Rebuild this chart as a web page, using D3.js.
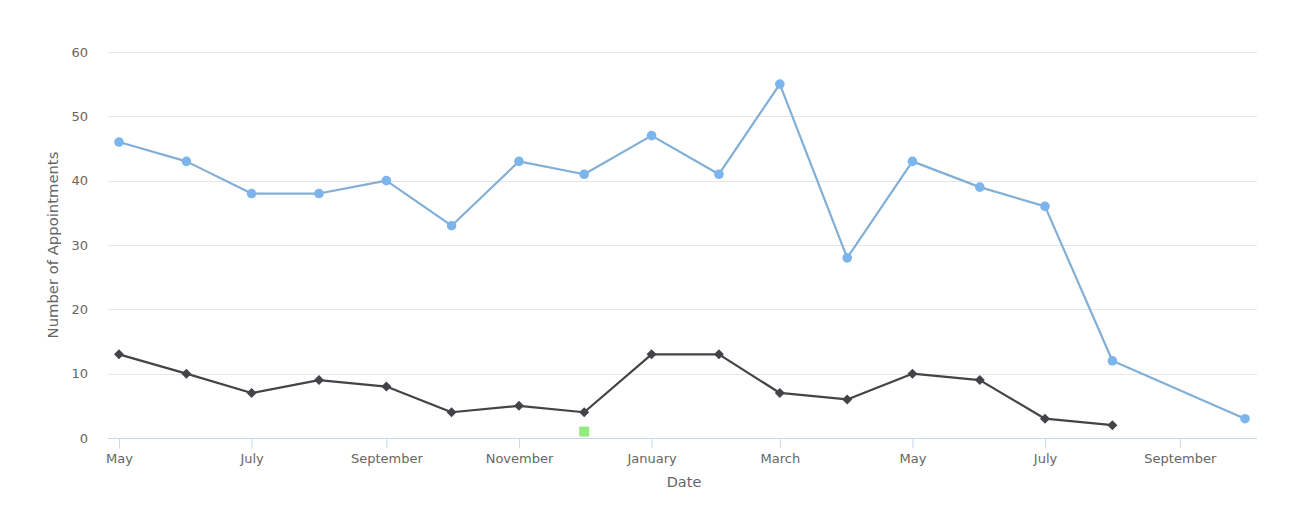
<!DOCTYPE html>
<html>
<head>
<meta charset="utf-8">
<script src="https://cdn.jsdelivr.net/npm/d3@7"></script>
<style>
  html, body { margin: 0; padding: 0; background: #fff; }
  svg { display: block; }
  text { font-family: "DejaVu Sans", sans-serif; }
</style>
</head>
<body>
<svg id="chart" width="1301" height="511"></svg>
<script>
// ---- data ----
const blueDates = ["2017-05-01","2017-06-01","2017-07-01","2017-08-01","2017-09-01","2017-10-01","2017-11-01","2017-12-01","2018-01-01","2018-02-01","2018-03-01","2018-04-01","2018-05-01","2018-06-01","2018-07-01","2018-08-01","2018-10-01"];
const blueValues = [46, 43, 38, 38, 40, 33, 43, 41, 47, 41, 55, 28, 43, 39, 36, 12, 3];
const blackDates = ["2017-05-01","2017-06-01","2017-07-01","2017-08-01","2017-09-01","2017-10-01","2017-11-01","2017-12-01","2018-01-01","2018-02-01","2018-03-01","2018-04-01","2018-05-01","2018-06-01","2018-07-01","2018-08-01"];
const blackValues = [13, 10, 7, 9, 8, 4, 5, 4, 13, 13, 7, 6, 10, 9, 3, 2];
const greenDates = ["2017-12-01"];
const greenValues = [1];
const yTicks = [0, 10, 20, 30, 40, 50, 60];
const xTickDates = ["2017-05-01","2017-07-01","2017-09-01","2017-11-01","2018-01-01","2018-03-01","2018-05-01","2018-07-01","2018-09-01"];
const xTickLabels = ["May","July","September","November","January","March","May","July","September"];

// ---- layout ----
const svg = d3.select("#chart");
const parse = d3.utcParse("%Y-%m-%d");
const x = d3.scaleUtc()
  .domain([parse("2017-05-01"), parse("2018-10-01")])
  .range([119, 1245]);
const plotLeft = 108, plotRight = 1257;
const y = d3.scaleLinear().domain([0, 60]).range([438, 52]);

// gridlines
svg.append("g").selectAll("line").data(yTicks.filter(d => d > 0)).join("line")
  .attr("x1", plotLeft).attr("x2", plotRight)
  .attr("y1", d => Math.round(y(d)) + 0.5).attr("y2", d => Math.round(y(d)) + 0.5)
  .attr("stroke", "#e6e6e6").attr("stroke-width", 1);

// y axis labels
const yAxis = d3.axisLeft(y).tickValues(yTicks).tickSize(0).tickPadding(0);
const yg = svg.append("g").attr("transform", "translate(88,0)").call(yAxis);
yg.select(".domain").remove();
yg.selectAll("text").attr("font-size", 13).attr("fill", "#666666")
  .attr("font-family", "DejaVu Sans, sans-serif");

// x axis
const xAxis = d3.axisBottom(x)
  .tickValues(xTickDates.map(parse))
  .tickFormat((d, i) => xTickLabels[i])
  .tickSize(10).tickSizeOuter(0).tickPadding(5);
const xg = svg.append("g").attr("transform", "translate(0,438.5)").call(xAxis);
xg.select(".domain").remove();
xg.selectAll(".tick line").attr("stroke", "#ccd6eb");
xg.selectAll("text").attr("font-size", 13).attr("fill", "#666666")
  .attr("font-family", "DejaVu Sans, sans-serif");
svg.append("line").attr("x1", plotLeft).attr("x2", plotRight)
  .attr("y1", 438.5).attr("y2", 438.5).attr("stroke", "#ccd6eb");

// axis titles
svg.append("text").attr("x", 684).attr("y", 487).attr("text-anchor", "middle")
  .attr("font-size", 14.5).attr("fill", "#666666").text("Date");
svg.append("text").attr("transform", "translate(58,245) rotate(-90)")
  .attr("text-anchor", "middle").attr("font-size", 14.8).attr("fill", "#666666")
  .text("Number of Appointments");

// series
const line = d3.line().x(d => x(d.date)).y(d => y(d.value));
const blue = blueDates.map((d, i) => ({ date: parse(d), value: blueValues[i] }));
const black = blackDates.map((d, i) => ({ date: parse(d), value: blackValues[i] }));
const green = greenDates.map((d, i) => ({ date: parse(d), value: greenValues[i] }));

svg.append("path").datum(blue).attr("d", line)
  .attr("fill", "none").attr("stroke", "#82afd6").attr("stroke-width", 2.2)
  .attr("stroke-linejoin", "round");
svg.append("g").selectAll("circle").data(blue).join("circle")
  .attr("cx", d => x(d.date)).attr("cy", d => y(d.value)).attr("r", 4.8)
  .attr("fill", "#7cb5ec");

svg.append("path").datum(black).attr("d", line)
  .attr("fill", "none").attr("stroke", "#434348").attr("stroke-width", 2.2)
  .attr("stroke-linejoin", "round");
svg.append("g").selectAll("path").data(black).join("path")
  .attr("d", "M0,-5 L5,0 L0,5 L-5,0 Z")
  .attr("transform", d => `translate(${x(d.date)},${y(d.value)})`)
  .attr("fill", "#434348");

svg.append("g").selectAll("rect").data(green).join("rect")
  .attr("x", d => x(d.date) - 5).attr("y", d => y(d.value) - 5)
  .attr("width", 10).attr("height", 10).attr("fill", "#90ed7d");
</script>
</body>
</html>
